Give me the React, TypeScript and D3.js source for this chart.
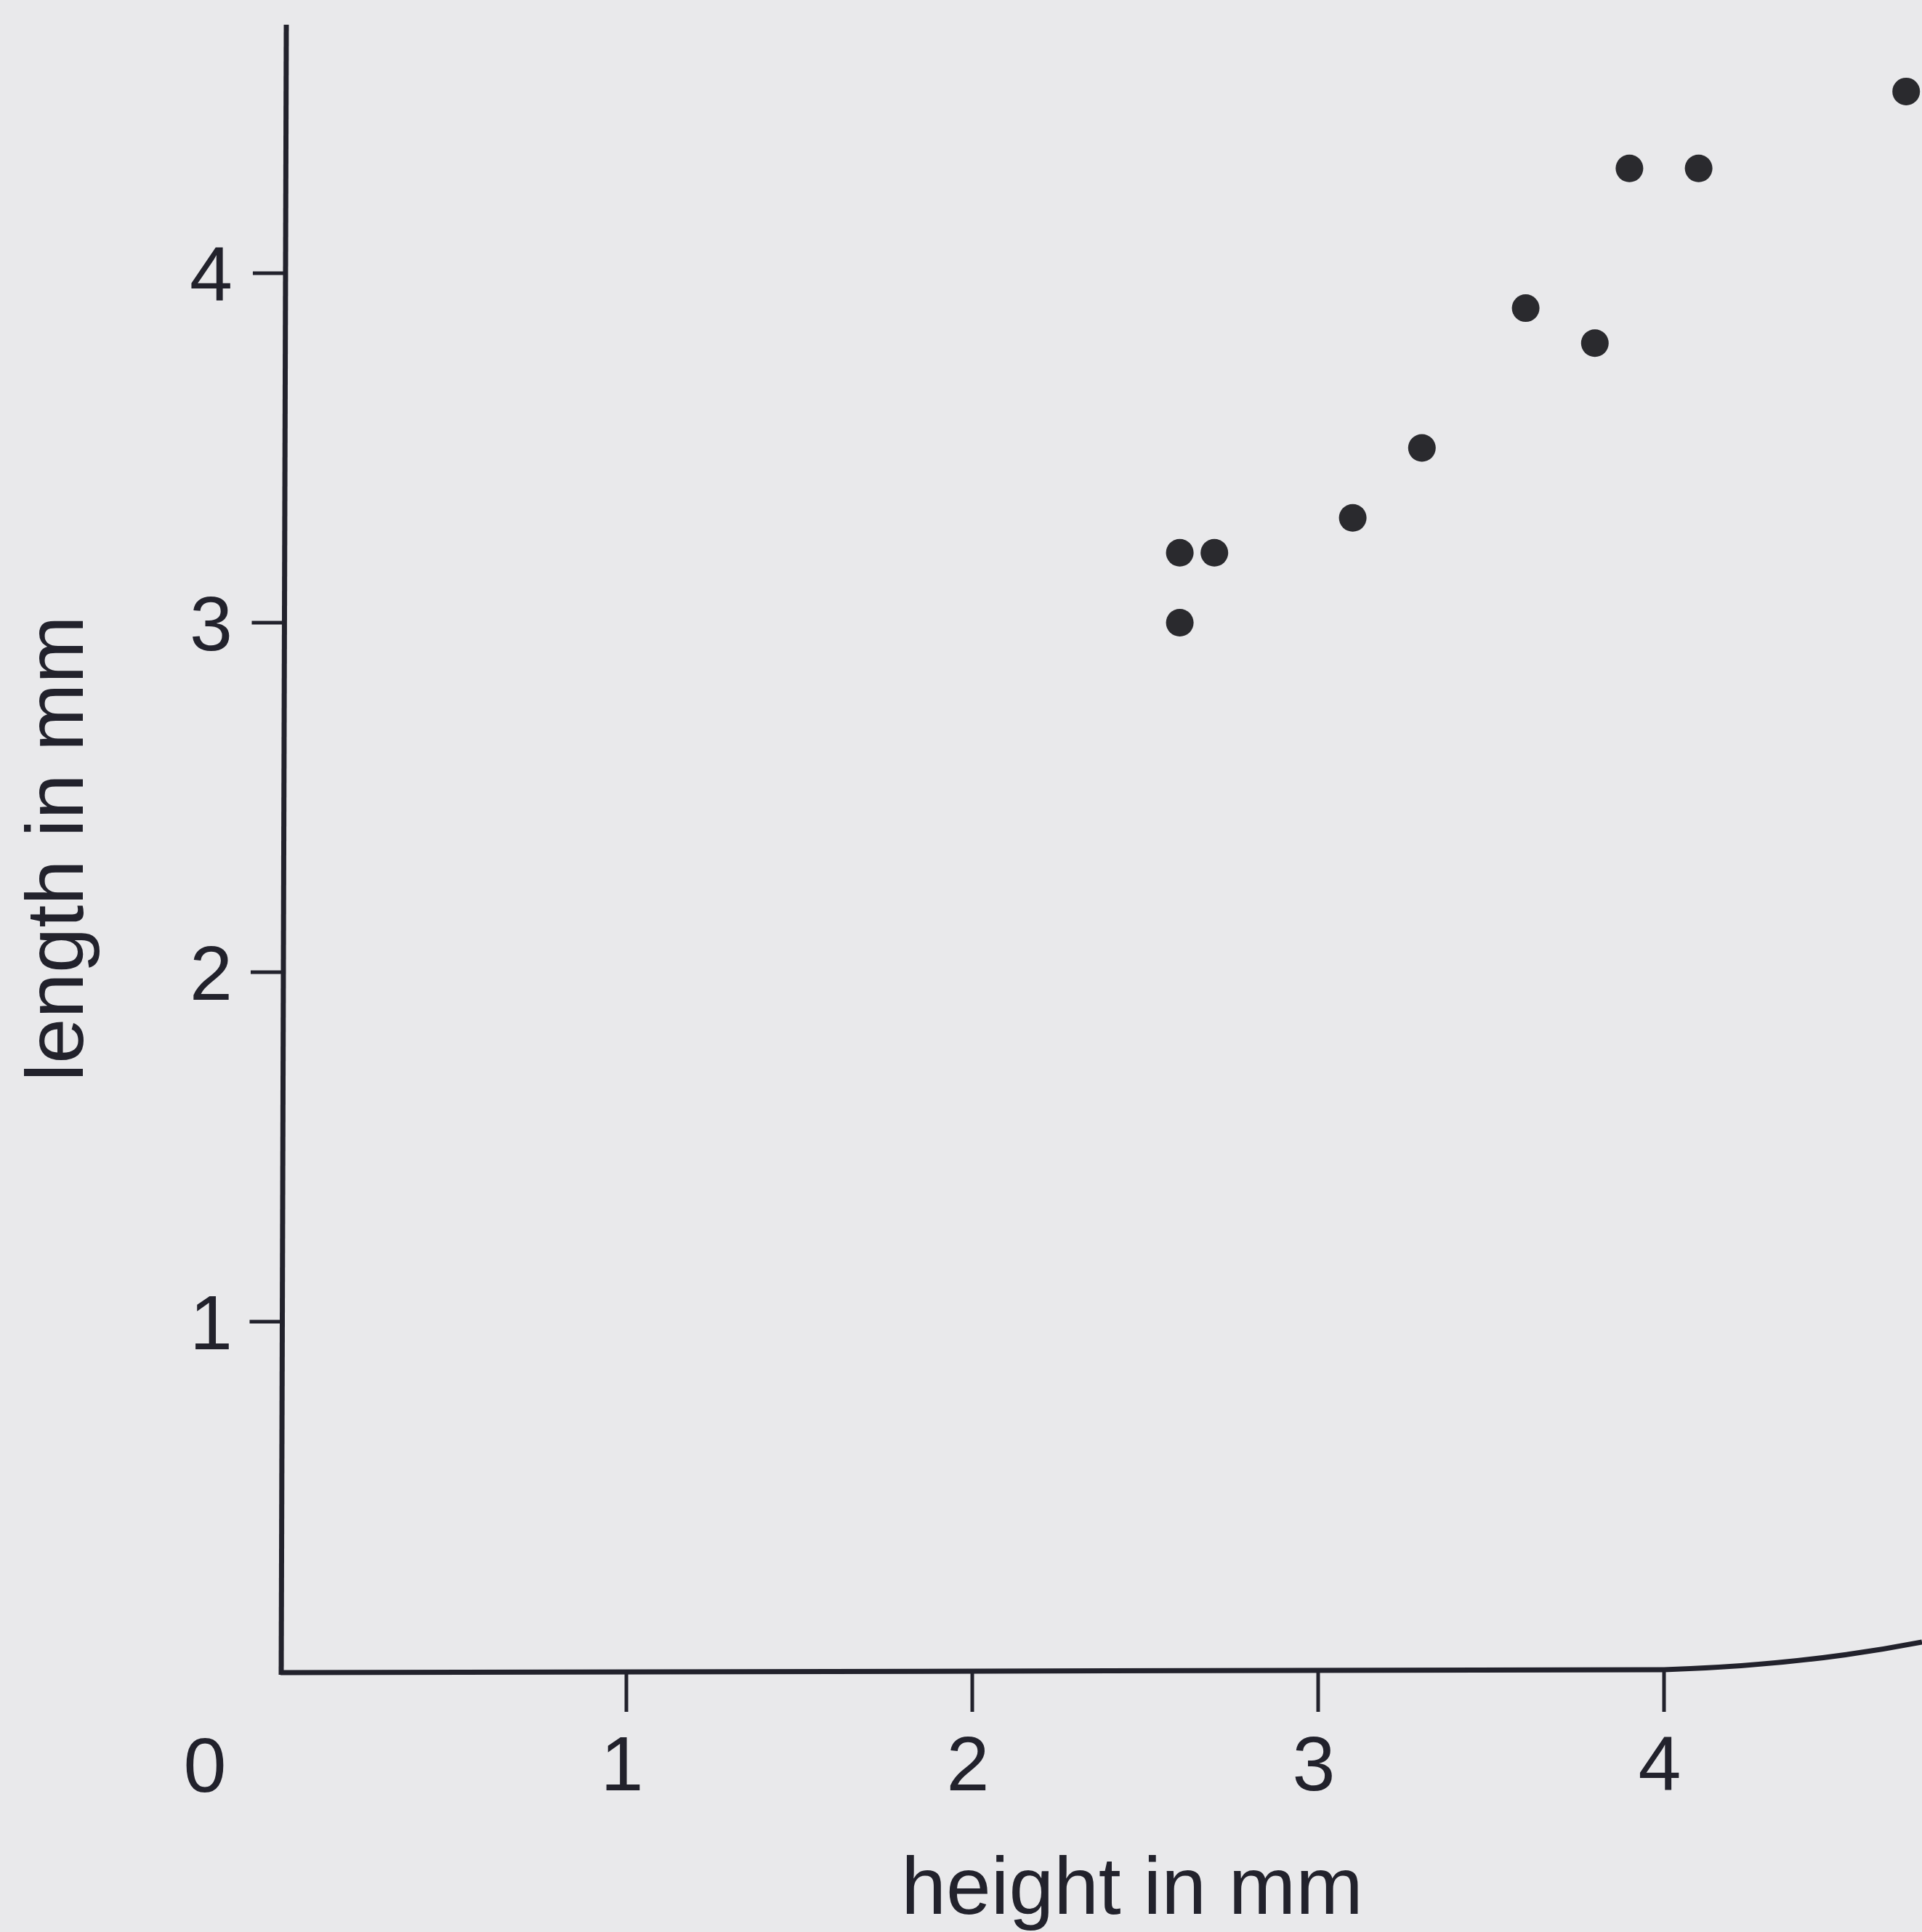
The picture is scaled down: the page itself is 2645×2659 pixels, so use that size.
import React from "react";
import * as d3 from "d3";

const heights = [2.6, 2.6, 2.7, 3.1, 3.3, 3.6, 3.8, 3.9, 4.1, 4.7];
const lengths = [3.0, 3.2, 3.2, 3.3, 3.5, 3.9, 3.8, 4.3, 4.3, 4.52];
const xTickValues = [1, 2, 3, 4];
const yTickValues = [1, 2, 3, 4];
const originLabel = "0";
const xTitle = "height in mm";
const yTitle = "length in mm";

const W = 2645;
const H = 2659;
const BG = "#e9e9eb";
const INK = "#22222c";
const FONT = "'Liberation Sans', Arial, Helvetica, sans-serif";

export default function App() {
  const x = d3.scaleLinear().domain([0, 4]).range([386, 2290]);
  const y = d3.scaleLinear().domain([0, 4]).range([2300, 376]);
  const points = heights.map((h, i) => ({ h, l: lengths[i] }));

  const x0 = x(0);
  const y0 = y(0);
  const xAxisPath = `M ${x0} ${y0 + 2} L ${x(4)} ${y0 - 2} Q ${x(4) + 190} ${y0 - 8} ${W} ${y0 - 40}`;

  return (
    <svg
      width={W}
      height={H}
      style={{ position: "absolute", left: 0, top: 0, background: BG }}
    >
      <rect x={0} y={0} width={W} height={H} fill={BG} />
      {/* y axis */}
      <line x1={x0 + 8} y1={34} x2={x0 + 1} y2={y0 + 5} stroke={INK} strokeWidth={7} />
      {/* x axis */}
      <path d={xAxisPath} fill="none" stroke={INK} strokeWidth={7} />
      {/* y ticks */}
      {yTickValues.map((v) => {
        const yy = y(v);
        const ax = x0 + 1 + (7 * (y0 - yy)) / (y0 - 36);
        return (
          <g key={"yt" + v}>
            <line x1={ax - 45} y1={yy} x2={ax} y2={yy} stroke={INK} strokeWidth={5} />
            <text
              x={320}
              y={yy}
              dy="0.36em"
              textAnchor="end"
              fontFamily={FONT}
              fontSize={106}
              fill={INK}
            >
              {v}
            </text>
          </g>
        );
      })}
      {/* x ticks */}
      {xTickValues.map((v) => {
        const xx = x(v);
        return (
          <g key={"xt" + v}>
            <line x1={xx} y1={y0 - 2} x2={xx} y2={y0 + 56} stroke={INK} strokeWidth={5} />
            <text
              x={xx - 6}
              y={2464}
              textAnchor="middle"
              fontFamily={FONT}
              fontSize={106}
              fill={INK}
            >
              {v}
            </text>
          </g>
        );
      })}
      <text x={282} y={2466} textAnchor="middle" fontFamily={FONT} fontSize={106} fill={INK}>
        {originLabel}
      </text>
      {/* points */}
      {points.map((p, i) => (
        <circle key={i} cx={x(p.h)} cy={y(p.l)} r={19} fill="#2a2a2e" />
      ))}
      {/* titles */}
      <text x={1558} y={2634} textAnchor="middle" fontFamily={FONT} fontSize={111} fill={INK}>
        {xTitle}
      </text>
      <text
        transform={`translate(114, 1168) rotate(-90)`}
        textAnchor="middle"
        fontFamily={FONT}
        fontSize={112}
        fill={INK}
      >
        {yTitle}
      </text>
    </svg>
  );
}
